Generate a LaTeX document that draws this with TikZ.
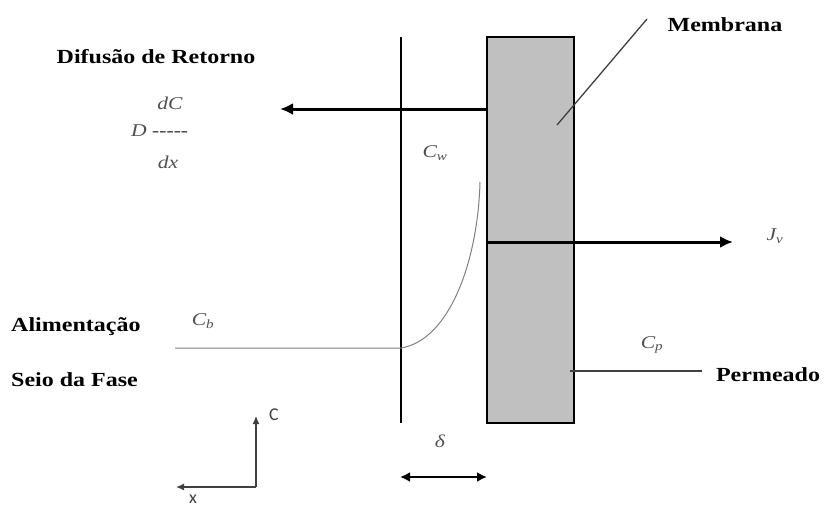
\documentclass[tikz,border=0pt]{standalone}
\usepackage{fontspec}
\setmainfont{Liberation Serif}[FakeStretch=1.2]
\setsansfont{Carlito}
\usetikzlibrary{positioning, arrows.meta, calc}
\definecolor{membgray}{HTML}{C0C0C0}
\definecolor{symgray}{HTML}{505050}
\definecolor{leadgray}{HTML}{404040}

\begin{document}
\begin{tikzpicture}[x=1pt, y=-1pt,
    tag/.style={font=\fontsize{20}{24}\selectfont\bfseries, inner sep=0pt},
    sym/.style={font=\fontsize{18}{20}\selectfont\itshape, text=symgray, inner sep=0pt},
    flux/.style={line width=3pt, -{Latex[length=13pt, width=12pt]}},
    profile/.style={draw=gray, line width=1pt},
    leader/.style={draw=leadgray, line width=1.3pt},
    axis/.style={leadgray, line width=1.3pt, -{Latex[length=8pt, width=7pt]}},
    axislab/.style={font=\sffamily\fontsize{18}{20}\selectfont, text=leadgray, inner sep=0pt}]
  \useasboundingbox (0,0) rectangle (824,509);

  % membrane and boundary layer
  \node[draw, line width=2pt, fill=membgray, minimum width=87pt, minimum height=386pt,
        inner sep=0pt] (memb) at (530.5,230) {};
  \coordinate (bltop) at (401,37);
  \coordinate (blbot) at (401,423);
  \draw[line width=2pt] (bltop) -- (blbot);

  % fluxes
  \coordinate (backstart) at (memb.west |- 0,109);
  \coordinate (backend) at (280,109);
  \draw[flux] (backstart) -- (backend);
  \coordinate (jvstart) at (memb.west |- 0,242);
  \coordinate (jvend) at (733,242);
  \draw[flux] (jvstart) -- (jvend);

  % concentration profile
  \coordinate (feedstart) at (175,348);
  \coordinate (wall) at (401,348);
  \coordinate (cwtop) at (480,182);
  \draw[profile] (feedstart) -- (wall)
    .. controls (450,340) and (478,260) .. (cwtop);

  % labels
  \node[tag] (difus) at (156,57) {Difusão de Retorno};
  \node[sym] (dc) at (170,103) {dC};
  \node[sym, anchor=west] (dterm) at (131,131) {D {\upshape\bfseries{-}{-}{-}{-}{-}}};
  \node[sym] (dx) at (168,162) {dx};
  \node[sym] (cw) at (435,153) {C\textsubscript{w}};
  \node[sym] (cb) at (203,321) {C\textsubscript{b}};
  \node[sym] (cp) at (652,345) {C\textsubscript{p}};
  \node[sym] (jv) at (775,236) {J\textsubscript{v}};
  \node[tag, anchor=west] (alim) at (11,327) {Alimentação};
  \node[tag, anchor=west] (seio) at (11,380) {Seio da Fase};
  \node[tag] (membtag) at (725,25) {Membrana};
  \node[tag] (perm) at (768,375) {Permeado};

  % leader lines
  \coordinate (membin) at (557,125);
  \coordinate (membout) at (647,19);
  \draw[leader] (membin) -- (membout);
  \coordinate (permin) at (570,371);
  \coordinate (permout) at (702,371);
  \draw[leader] (permin) -- (permout);

  % boundary layer thickness
  \node[sym] (delta) at (440,441) {δ};
  \coordinate (dleft) at (400,477);
  \coordinate (dright) at (487,477);
  \draw[line width=2pt, {Latex[length=10pt, width=10pt]}-{Latex[length=10pt, width=10pt]}] (dleft) -- (dright);

  % axes
  \coordinate (origin) at (256,487);
  \coordinate (cax) at (256,416);
  \coordinate (xax) at (176,487);
  \draw[axis] (origin) -- (cax);
  \draw[axis] (origin) -- (xax);
  \node[axislab] (clab) at (274,415) {C};
  \node[axislab] (xlab) at (193,499) {x};
\end{tikzpicture}
\end{document}
